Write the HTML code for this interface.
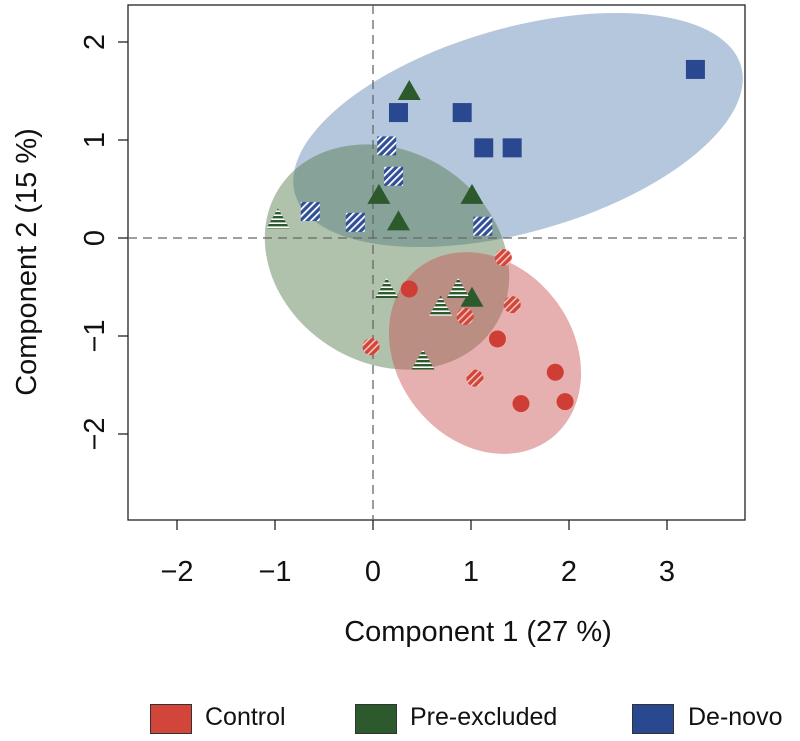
<!DOCTYPE html>
<html><head><meta charset="utf-8">
<style>
body{margin:0;background:#fff;}
svg{display:block;font-family:"Liberation Sans",sans-serif;}
</style></head>
<body>
<svg id="chart" width="800" height="741" viewBox="0 0 800 741">
<defs>
<pattern id="hb" patternUnits="userSpaceOnUse" width="5" height="5" patternTransform="rotate(45)">
<rect width="5" height="5" fill="#2f4f98"/><rect width="1.8" height="5" fill="#fff"/></pattern>
<pattern id="hr" patternUnits="userSpaceOnUse" width="5" height="5" patternTransform="rotate(45)">
<rect width="5" height="5" fill="#d2453b"/><rect width="1.6" height="5" fill="#f4c4bc"/></pattern>
<pattern id="hg" patternUnits="userSpaceOnUse" width="4" height="4">
<rect width="4" height="4" fill="#2d5a2d"/><rect y="2.4" width="4" height="1.6" fill="#fff"/></pattern>
</defs>
<g id="ell"></g>
<g id="axes"></g>
<g id="marks"></g>
</svg>
<script>
const xTicks=[-2,-1,0,1,2,3];
const yTicks=[-2,-1,0,1,2];
const denovoX=[0.26,0.91,1.13,1.42,3.29];
const denovoY=[1.28,1.28,0.92,0.92,1.72];
const denovoHX=[0.14,0.21,-0.64,-0.18,1.12];
const denovoHY=[0.94,0.63,0.27,0.16,0.12];
const preX=[0.37,0.06,0.26,1.01,1.01];
const preY=[1.49,0.43,0.16,0.43,-0.62];
const preHX=[-0.97,0.14,0.87,0.69,0.51];
const preHY=[0.18,-0.53,-0.53,-0.71,-1.26];
const ctrlX=[0.37,1.27,1.86,1.51,1.96];
const ctrlY=[-0.52,-1.03,-1.37,-1.69,-1.67];
const ctrlHX=[1.33,1.42,0.94,-0.02,1.04];
const ctrlHY=[-0.20,-0.68,-0.80,-1.11,-1.43];
const NS="http://www.w3.org/2000/svg";
const sx=v=>373+v*98, sy=v=>238-v*98;
function mk(tag,attrs,parent){const e=document.createElementNS(NS,tag);for(const k in attrs)e.setAttribute(k,attrs[k]);document.getElementById(parent).appendChild(e);return e;}
let e;
e=mk('ellipse',{cx:518,cy:130,rx:232,ry:102,transform:'rotate(-16 518 130)',fill:'rgba(90,130,178,0.45)'},'ell');


e=mk('ellipse',{cx:387,cy:257,rx:128,ry:106,transform:'rotate(32 387 257)',fill:'rgba(80,120,70,0.45)'},'ell');


e=mk('ellipse',{cx:485,cy:353,rx:108,ry:88,transform:'rotate(52 485 353)',fill:'rgba(200,80,80,0.45)'},'ell');


e=mk('rect',{x:128,y:5,width:617,height:515,fill:'none',stroke:'#222','stroke-width':1.3},'axes');


e=mk('line',{x1:128,x2:745,y1:sy(0),y2:sy(0),stroke:'#666','stroke-dasharray':'9,6','stroke-width':1.3},'axes');


e=mk('line',{x1:sx(0),x2:sx(0),y1:5,y2:520,stroke:'#666','stroke-dasharray':'9,6','stroke-width':1.3},'axes');


xTicks.forEach(t=>{
 e=mk('line',{x1:sx(t),x2:sx(t),y1:520,y2:530,stroke:'#222','stroke-width':1.3},'axes');
 
 
 e=mk('text',{x:sx(t),y:581,'text-anchor':'middle','font-size':29,fill:'#111'},'axes');e.textContent=(t<0?'\u2212'+(-t):t);
 
 
});
yTicks.forEach(t=>{
 e=mk('line',{x1:118,x2:128,y1:sy(t),y2:sy(t),stroke:'#222','stroke-width':1.3},'axes');
 
 
 e=mk('text',{x:0,y:0,transform:`translate(104 ${sy(t)}) rotate(-90)`,'text-anchor':'middle','font-size':29,fill:'#111'},'axes');e.textContent=(t<0?'\u2212'+(-t):t);
 
 
});
e=mk('text',{x:478,y:641,'text-anchor':'middle','font-size':29,fill:'#111'},'axes');e.textContent='Component 1 (27 %)';


e=mk('text',{x:0,y:0,transform:'translate(36 262) rotate(-90)','text-anchor':'middle','font-size':29,fill:'#111'},'axes');e.textContent='Component 2 (15 %)';


function sq(xs,ys,fill,name){xs.forEach((x,i)=>{const m=mk('rect',{x:sx(x)-9.5,y:sy(ys[i])-9.5,width:19,height:19,fill:fill},'marks');
 
 });}
function tri(xs,ys,fill,name){xs.forEach((x,i)=>{const cx=sx(x),cy=sy(ys[i]);const m=mk('polygon',{points:`${cx},${cy-12} ${cx-11.5},${cy+8} ${cx+11.5},${cy+8}`,fill:fill},'marks');
 
 });}
function cir(xs,ys,fill,name){xs.forEach((x,i)=>{const m=mk('circle',{cx:sx(x),cy:sy(ys[i]),r:8.5,fill:fill},'marks');
 
 });}
sq(denovoX,denovoY,'#2a4890','de-novo-point');
sq(denovoHX,denovoHY,'url(#hb)','de-novo-hatched-point');
tri(preX,preY,'#2d5a2d','pre-excluded-point');
tri(preHX,preHY,'url(#hg)','pre-excluded-hatched-point');
cir(ctrlX,ctrlY,'#cf3e34','control-point');
cir(ctrlHX,ctrlHY,'url(#hr)','control-hatched-point');
</script>
<div style="position:absolute;left:0;top:695px;width:800px;height:46px;font-family:'Liberation Sans',sans-serif;font-size:25px;color:#111">
 <div style="position:absolute;left:150px;top:9px;width:40px;height:28px;background:#d2453b;border:1px solid #333"></div>
 <div style="position:absolute;left:205px;top:8px">Control</div>
 <div style="position:absolute;left:355px;top:9px;width:40px;height:28px;background:#2d5a2d;border:1px solid #333"></div>
 <div style="position:absolute;left:410px;top:8px">Pre-excluded</div>
 <div style="position:absolute;left:632px;top:9px;width:40px;height:28px;background:#2a4890;border:1px solid #333"></div>
 <div style="position:absolute;left:688px;top:8px">De-novo</div>
</div>
</body></html>
